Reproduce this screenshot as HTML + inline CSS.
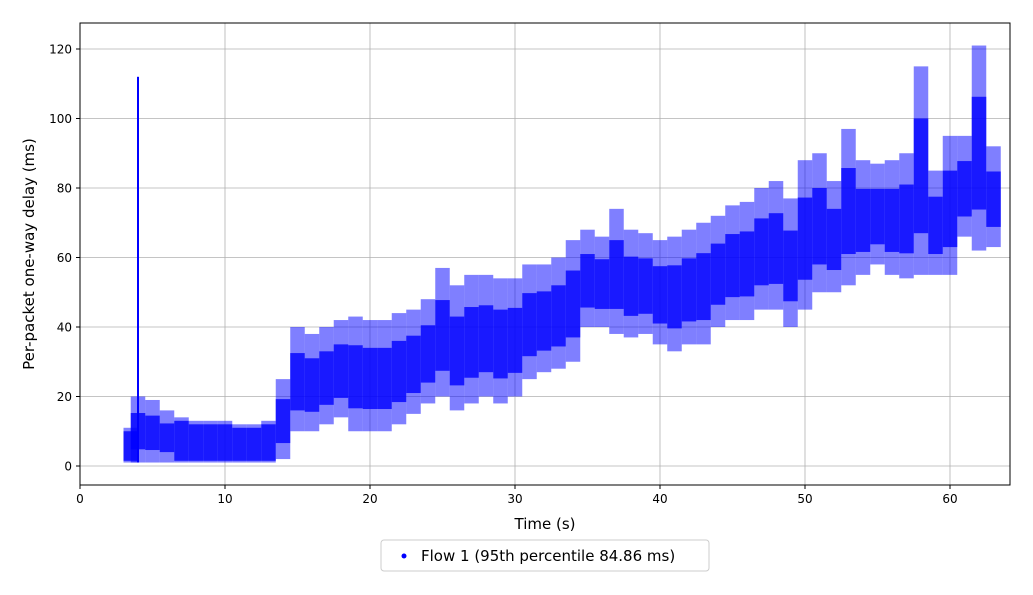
<!DOCTYPE html>
<html><head><meta charset="utf-8">
<style>
body{margin:0;background:#fff;font-family:"DejaVu Sans","Liberation Sans",sans-serif;}
svg text{font-family:"DejaVu Sans","Liberation Sans",sans-serif;}
</style></head>
<body>
<svg id="chart" width="1033" height="591"></svg>
<script>
const times=[3.5,4,5,6,7,8,9,10,11,12,13,14,15,16,17,18,19,20,21,22,23,24,25,26,27,28,29,30,31,32,33,34,35,36,37,38,39,40,41,42,43,44,45,46,47,48,49,50,51,52,53,54,55,56,57,58,59,60,61,62,63];
const lows=[1,1,1,1,1,1,1,1,1,1,1,2,10,10,12,14,10,10,10,12,15,18,20,16,18,20,18,20,25,27,28,30,40,40,38,37,38,35,33,35,35,40,42,42,45,45,40,45,50,50,52,55,58,55,54,55,55,55,66,62,63];
const highs=[11,20,19,16,14,13,13,13,12,12,13,25,40,38,40,42,43,42,42,44,45,48,57,52,55,55,54,54,58,58,60,65,68,66,74,68,67,65,66,68,70,72,75,76,80,82,77,88,90,82,97,88,87,88,90,115,85,95,95,121,92];
const spikeTime=4.0, spikeLow=1, spikeHigh=112;
const xTicks=[0,10,20,30,40,50,60];
const yTicks=[0,20,40,60,80,100,120];

const svg=document.getElementById('chart');
const NS='http://www.w3.org/2000/svg';
const L=80,R=1010,T=23,B=485;
const xs=v=>L+v*14.5;
const ys=v=>466-v*3.475;
function mk(tag,attrs,parent){const e=document.createElementNS(NS,tag);for(const k in attrs)e.setAttribute(k,attrs[k]);(parent||svg).appendChild(e);return e;}

const grid=mk('g',{});


xTicks.forEach(t=>{mk('line',{x1:xs(t),x2:xs(t),y1:T,y2:B,stroke:'#b0b0b0','stroke-width':0.8},grid);});
yTicks.forEach(t=>{mk('line',{x1:L,x2:R,y1:ys(t),y2:ys(t),stroke:'#b0b0b0','stroke-width':0.8},grid);});

const series=mk('g',{});


times.forEach((t,i)=>{
  const x0=xs(t-0.5), w=14.5, lo=lows[i], hi=highs[i];
  const r=mk('rect',{x:x0,y:ys(hi),width:w,height:ys(lo)-ys(hi),fill:'#0000ff',opacity:0.5},series);
  
  
  const small=hi<15;
  const cl=small?lo+0.5:lo+(hi-lo)*0.2, ch=small?hi-1:hi-(hi-lo)*0.25;
  const c=mk('rect',{x:x0,y:ys(ch),width:w,height:ys(cl)-ys(ch),fill:'#0000ff',opacity:0.8},series);
  
  
});
const sp=mk('rect',{x:xs(spikeTime)-1,y:ys(spikeHigh),width:2,height:ys(spikeLow)-ys(spikeHigh),fill:'#0000ff'},series);



const frame=mk('rect',{x:L,y:T,width:R-L,height:B-T,fill:'none',stroke:'#000','stroke-width':1});



xTicks.forEach(t=>{
  mk('line',{x1:xs(t),x2:xs(t),y1:B,y2:B+4,stroke:'#000'});
  const tx=mk('text',{x:xs(t),y:B+18,'text-anchor':'middle','font-size':12});
  tx.textContent=t;
  
  
});
yTicks.forEach(t=>{
  mk('line',{x1:L-4,x2:L,y1:ys(t),y2:ys(t),stroke:'#000'});
  const tx=mk('text',{x:L-8,y:ys(t)+4.5,'text-anchor':'end','font-size':12});
  tx.textContent=t;
  
  
});
const xt=mk('text',{x:545,y:529,'text-anchor':'middle','font-size':15});
xt.textContent='Time (s)';


const yt=mk('text',{x:34,y:254,'text-anchor':'middle','font-size':15,transform:'rotate(-90 34 254)'});
yt.textContent='Per-packet one-way delay (ms)';



const lg=mk('g',{});


mk('rect',{x:381,y:540,width:328,height:31,rx:3,fill:'#fff',stroke:'#ccc'},lg);
mk('circle',{cx:404,cy:556,r:2.5,fill:'#0000ff'},lg);
const lt=mk('text',{x:421,y:561,'font-size':15},lg);
lt.textContent='Flow 1 (95th percentile 84.86 ms)';


</script>
</body></html>
